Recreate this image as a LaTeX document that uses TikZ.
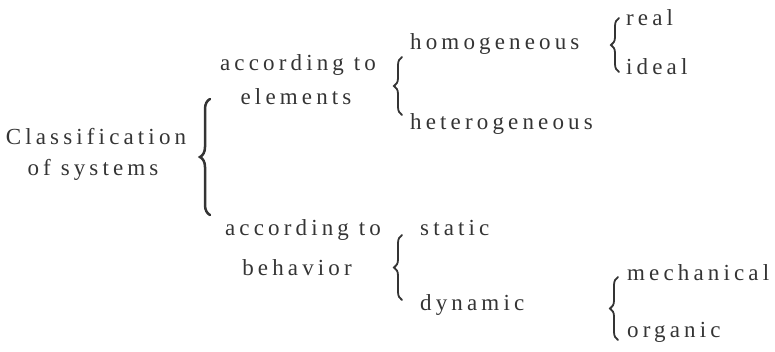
\documentclass[tikz,border=0pt]{standalone}
\usepackage{fontspec}
\setmainfont{Liberation Serif}[LetterSpace=18]
\usetikzlibrary{decorations.pathreplacing}
\definecolor{ink}{RGB}{52,52,52}
\begin{document}
\begin{tikzpicture}[x=1pt,y=-1pt,
  every node/.style={inner sep=0pt, text=ink, font=\fontsize{23}{31}\selectfont},
  lbl/.style={anchor=base},
  leaf/.style={anchor=base west},
  curly/.style={draw=ink, line width=1.8pt, line cap=round, decorate,
    decoration={brace, amplitude=#1}},
  curly/.default=7pt
]
\useasboundingbox (0,0) rectangle (775,351);

% root label
\node[lbl] (root1) at (96,144) {Classification};
\node[lbl] (root2) at (93,175) {of systems};

% first level
\node[lbl] (el1) at (298,70) {according to};
\node[lbl] (el2) at (296,104) {elements};
\node[lbl] (be1) at (303,235) {according to};
\node[lbl] (be2) at (297,275) {behavior};

% second level
\node[leaf] (hom) at (410,49) {homogeneous};
\node[leaf] (het) at (410,129) {heterogeneous};
\node[leaf] (sta) at (420,235) {static};
\node[leaf] (dyn) at (420,310) {dynamic};

% third level
\node[leaf] (real) at (626,25) {real};
\node[leaf] (ideal) at (626,74) {ideal};
\node[leaf] (mech) at (627,280) {mechanical};
\node[leaf] (org) at (627,337) {organic};

% brace end points
\coordinate (b1t) at (210,99);   \coordinate (b1b) at (210,215);
\coordinate (b2t) at (402,57);   \coordinate (b2b) at (402,115);
\coordinate (b3t) at (619,18);   \coordinate (b3b) at (619,72);
\coordinate (b4t) at (402,235);  \coordinate (b4b) at (402,300);
\coordinate (b5t) at (618,277);  \coordinate (b5b) at (618,340);

\draw[curly=10pt, line width=2.5pt] (b1b) -- (b1t);
\draw[curly=8pt] (b2b) -- (b2t);
\draw[curly=8pt] (b3b) -- (b3t);
\draw[curly=8pt] (b4b) -- (b4t);
\draw[curly=8pt] (b5b) -- (b5t);
\end{tikzpicture}
\end{document}
